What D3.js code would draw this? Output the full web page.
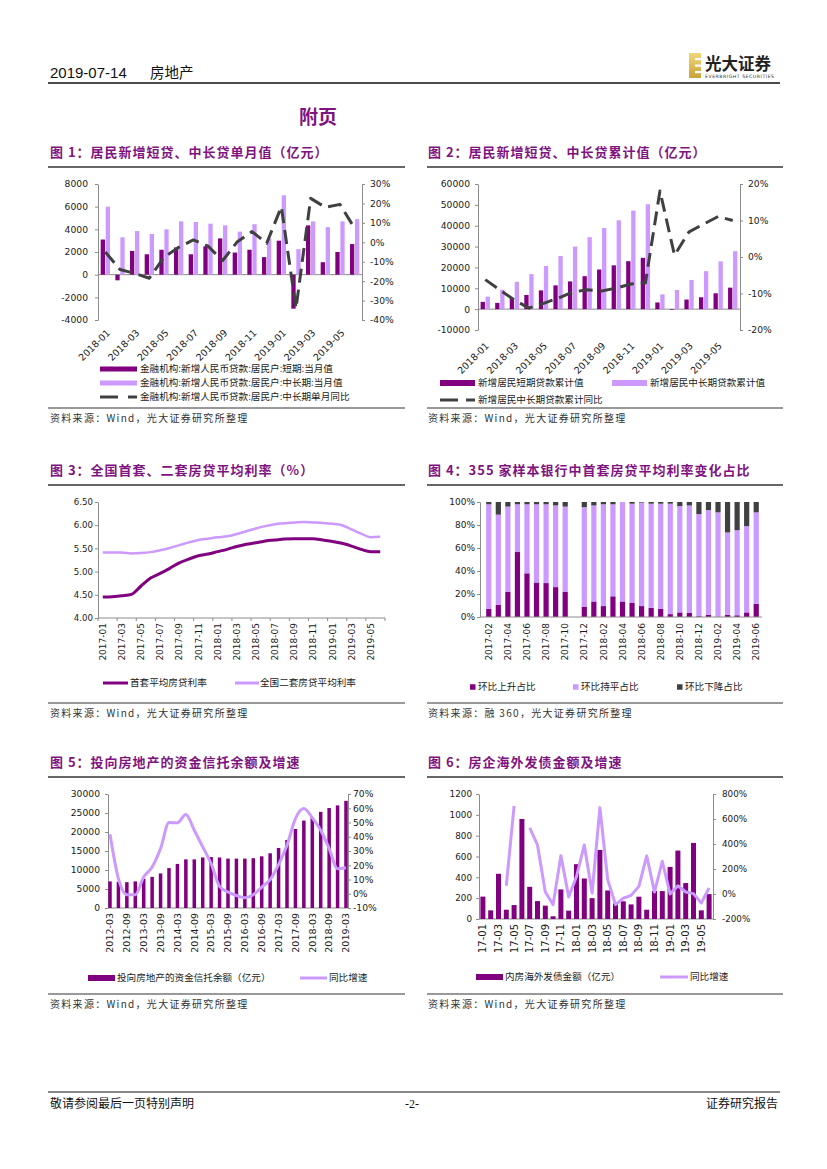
<!DOCTYPE html>
<html>
<head>
<meta charset="utf-8">
<script src="https://cdn.jsdelivr.net/npm/d3@7/dist/d3.min.js"></script>
<style>
  body { margin: 0; background: #fff; }
  svg text { font-family: "DejaVu Sans", sans-serif; }
  .cn { font-family: "Noto Sans CJK SC", sans-serif; }
  .title { font-family: "Noto Sans CJK SC", sans-serif; font-weight: 700; font-size: 13px; fill: #7f1380; letter-spacing: 1px; }
  .source { font-family: "Noto Sans CJK SC", sans-serif; font-size: 10px; fill: #333; letter-spacing: 1.3px; }
  .legend { font-family: "Noto Sans CJK SC", sans-serif; font-size: 9.6px; fill: #1a1a1a; }
  .tick text { font-family: "DejaVu Sans", sans-serif; fill: #1a1a1a; }
  .xlab { font-family: "DejaVu Sans", sans-serif; fill: #1a1a1a; }
</style>
</head>
<body>
<div id="wrapper"></div>
<script>
// 1. Data
const months18 = ["2018-01","2018-02","2018-03","2018-04","2018-05","2018-06","2018-07","2018-08","2018-09",
  "2018-10","2018-11","2018-12","2019-01","2019-02","2019-03","2019-04","2019-05","2019-06"];
const monthTicks18 = ["2018-01","2018-03","2018-05","2018-07","2018-09","2018-11","2019-01","2019-03","2019-05"];

// fig 1: monthly
const shortMonthly = [3100, -500, 2100, 1800, 2200, 2400, 1800, 2500, 3200, 1950, 2200, 1550, 3000, -3000, 4350, 1100, 2000, 2700];
const longMonthly = [6000, 3300, 3850, 3600, 4000, 4700, 4650, 4500, 4350, 3800, 4450, 3200, 7000, 2250, 4700, 4200, 4700, 4900];
const longMonthlyYoy = [-0.05, -0.14, -0.16, -0.185, -0.077, -0.026, 0.012, -0.02, -0.094, 0.003, 0.055, -0.005, 0.183, -0.34, 0.226, 0.18, 0.195, 0.072];

// fig 2: cumulative
const shortCumulative = [3500, 3000, 5200, 6800, 9000, 11400, 13300, 15800, 19000, 21000, 23000, 24600, 3200, -300, 4600, 5700, 7600, 10300];
const longCumulative = [6000, 9300, 13100, 16800, 20700, 25500, 30000, 34500, 38900, 42600, 47200, 50300, 7100, 9200, 14000, 18200, 22900, 27800];
const longCumulativeYoy = [-0.062, -0.09, -0.118, -0.14, -0.127, -0.113, -0.096, -0.09, -0.093, -0.085, -0.074, -0.071, 0.181, 0.005, 0.069, 0.09, 0.111, 0.10];

// fig 3: mortgage rates
const months30 = ["2017-01","2017-02","2017-03","2017-04","2017-05","2017-06","2017-07","2017-08","2017-09","2017-10","2017-11","2017-12",
  "2018-01","2018-02","2018-03","2018-04","2018-05","2018-06","2018-07","2018-08","2018-09","2018-10","2018-11","2018-12",
  "2019-01","2019-02","2019-03","2019-04","2019-05","2019-06"];
const monthTicks30 = ["2017-01","2017-03","2017-05","2017-07","2017-09","2017-11","2018-01","2018-03","2018-05","2018-07",
  "2018-09","2018-11","2019-01","2019-03","2019-05"];
const firstHomeRate = [4.45, 4.46, 4.48, 4.51, 4.69, 4.86, 4.96, 5.07, 5.19, 5.27, 5.34, 5.38, 5.43, 5.48, 5.54, 5.59, 5.62, 5.66,
  5.68, 5.70, 5.71, 5.71, 5.71, 5.68, 5.65, 5.61, 5.55, 5.48, 5.43, 5.43];
const secondHomeRate = [5.41, 5.41, 5.41, 5.39, 5.40, 5.42, 5.46, 5.51, 5.57, 5.63, 5.68, 5.71, 5.74, 5.76, 5.81, 5.87, 5.93, 5.98,
  6.02, 6.04, 6.06, 6.07, 6.06, 6.05, 6.03, 6.00, 5.91, 5.82, 5.74, 5.75];

// fig 4: share of banks (%), 2017-11 missing
const months29 = ["2017-02","2017-03","2017-04","2017-05","2017-06","2017-07","2017-08","2017-09","2017-10","2017-11","2017-12",
  "2018-01","2018-02","2018-03","2018-04","2018-05","2018-06","2018-07","2018-08","2018-09","2018-10","2018-11","2018-12",
  "2019-01","2019-02","2019-03","2019-04","2019-05","2019-06"];
const monthTicks29 = ["2017-02","2017-04","2017-06","2017-08","2017-10","2017-12","2018-02","2018-04","2018-06","2018-08",
  "2018-10","2018-12","2019-02","2019-04","2019-06"];
const upShare = [7, 10.5, 22, 56.5, 38, 30, 29.5, 26, 22, null, 9, 13.5, 9.5, 18, 13.5, 12.5, 9.5, 8, 7, 2.5, 4, 3.5, 0.7, 2, 0, 2, 1.5, 4, 11.5];
const flatShare = [91, 78.5, 74, 41.5, 60, 68, 68.5, 71, 74, null, 86.5, 83.5, 88.5, 80, 86.5, 86, 90, 90.5, 91.5, 96, 92.5, 93.5, 88.8, 91, 91, 71.5, 74, 75, 79.5];
const downShare = [2, 11, 4, 2, 2, 2, 2, 3, 4, null, 4.5, 3, 2, 2, 0, 1.5, 0.5, 1.5, 1.5, 1.5, 3.5, 3, 10.5, 7, 9, 26.5, 24.5, 21, 9];

// fig 5: trust funds to real estate
const quarters = ["2012-03","2012-06","2012-09","2012-12","2013-03","2013-06","2013-09","2013-12","2014-03","2014-06","2014-09","2014-12",
  "2015-03","2015-06","2015-09","2015-12","2016-03","2016-06","2016-09","2016-12","2017-03","2017-06","2017-09","2017-12",
  "2018-03","2018-06","2018-09","2018-12","2019-03"];
const quarterTicks = ["2012-03","2012-09","2013-03","2013-09","2014-03","2014-09","2015-03","2015-09","2016-03","2016-09",
  "2017-03","2017-09","2018-03","2018-09","2019-03"];
const trustBalance = [7000, 6900, 6800, 7000, 7700, 8200, 9100, 10500, 11600, 12800, 12800, 13300, 13400, 13300, 13000, 13000,
  13000, 13100, 13600, 14400, 15800, 17900, 20800, 23000, 23900, 25300, 26300, 27000, 28200];
const trustYoy = [0.418, 0.106, -0.007, -0.007, 0.117, 0.188, 0.317, 0.50, 0.498, 0.556, 0.446, 0.329, 0.211, 0.052, 0.012, -0.012,
  -0.028, -0.007, 0.047, 0.099, 0.204, 0.34, 0.528, 0.599, 0.533, 0.446, 0.317, 0.176, 0.183];

// fig 6: overseas bonds
const bondMonths = ["17-01","17-02","17-03","17-04","17-05","17-06","17-07","17-08","17-09","17-10","17-11","17-12",
  "18-01","18-02","18-03","18-04","18-05","18-06","18-07","18-08","18-09","18-10","18-11","18-12",
  "19-01","19-02","19-03","19-04","19-05","19-06"];
const bondTicks = ["17-01","17-03","17-05","17-07","17-09","17-11","18-01","18-03","18-05","18-07","18-09","18-11","19-01","19-03","19-05"];
const bondAmount = [215, 83, 434, 89, 134, 960, 309, 172, 128, 26, 284, 80, 526, 389, 200, 663, 274, 150, 170, 140, 214, 89,
  270, 268, 500, 657, 345, 730, 83, 239];
const bondYoy = [null, null, null, 0.66, 7.05, null, 5.30, 3.92, 0.16, -0.85, 3.07, -0.24, 1.40, 3.92, 0.08, 6.91, 1.14, -0.85,
  -0.34, -0.11, 0.61, 3.05, 0.16, 2.62, 0.0, 0.66, 0.16, 0.03, -0.72, 0.48];

// 2. Page
const colors = { dark: "#800080", light: "#cc99ff", gray: "#404040", axis: "#8c8c8c", title: "#7f1380" };
const pct = (d) => Math.round(d * 100) + "%";

const svg = d3.select("#wrapper").append("svg").attr("width", 827).attr("height", 1169);

// header
svg.append("text").attr("x", 50).attr("y", 78).style("font-family", "Liberation Sans").style("font-size", "15px")
  .attr("fill", "#111").text("2019-07-14");
svg.append("text").attr("x", 150).attr("y", 78).attr("class", "cn").style("font-size", "14.5px").attr("fill", "#111").text("房地产");
svg.append("line").attr("x1", 48).attr("x2", 780).attr("y1", 83).attr("y2", 83).attr("stroke", "#111").attr("stroke-width", 1.5);

// logo
const grad = svg.append("defs").append("linearGradient").attr("id", "gold").attr("x1", 0).attr("x2", 0).attr("y1", 0).attr("y2", 1);
grad.append("stop").attr("offset", "0%").attr("stop-color", "#f1d77a");
grad.append("stop").attr("offset", "100%").attr("stop-color", "#c9a23a");
svg.append("rect").attr("x", 689).attr("y", 53).attr("width", 12).attr("height", 25).attr("fill", "url(#gold)");
[58, 64.5, 71].forEach((y) =>
  svg.append("rect").attr("x", 695).attr("y", y).attr("width", 6).attr("height", 2.2).attr("fill", "#fff"));
svg.append("text").attr("x", 705).attr("y", 70).attr("class", "cn").style("font-size", "16.5px").style("font-weight", 700)
  .attr("fill", "#222").text("光大证券");
svg.append("text").attr("x", 705).attr("y", 77.5).style("font-size", "4.6px").attr("fill", "#333")
  .attr("textLength", 69).text("EVERBRIGHT SECURITIES");

svg.append("text").attr("x", 318).attr("y", 124).attr("text-anchor", "middle").attr("class", "cn")
  .style("font-size", "19px").style("font-weight", 700).attr("fill", colors.title).text("附页");

// footer
svg.append("line").attr("x1", 48).attr("x2", 780).attr("y1", 1092).attr("y2", 1092).attr("stroke", "#111").attr("stroke-width", 1);
svg.append("text").attr("x", 50).attr("y", 1108).attr("class", "cn").style("font-size", "12px").attr("fill", "#111").text("敬请参阅最后一页特别声明");
svg.append("text").attr("x", 412).attr("y", 1108).attr("text-anchor", "middle").style("font-family", "Liberation Serif")
  .style("font-size", "12px").attr("fill", "#111").text("-2-");
svg.append("text").attr("x", 778).attr("y", 1108).attr("text-anchor", "end").attr("class", "cn").style("font-size", "12px")
  .attr("fill", "#111").text("证券研究报告");

// panel frames
const panels = { left: [48, 405, 50], right: [427, 783, 428] };
function panelTitle(side, y, text) {
  const [x0, x1, tx] = panels[side];
  svg.append("text").attr("class", "title").attr("x", tx).attr("y", y).text(text);
  svg.append("line").attr("x1", x0).attr("x2", x1).attr("y1", y + 10).attr("y2", y + 10)
    .attr("stroke", "#333").attr("stroke-width", 1.5);
}
function panelSource(side, y, text) {
  const [x0, x1, tx] = panels[side];
  svg.append("line").attr("x1", x0).attr("x2", x1).attr("y1", y).attr("y2", y).attr("stroke", "#333").attr("stroke-width", 1);
  svg.append("text").attr("class", "source").attr("x", tx).attr("y", y + 14).text(text);
}

panelTitle("left", 157, "图 1：居民新增短贷、中长贷单月值（亿元）");
panelTitle("right", 157, "图 2：居民新增短贷、中长贷累计值（亿元）");
panelTitle("left", 475, "图 3：全国首套、二套房贷平均利率（%）");
panelTitle("right", 475, "图 4：355 家样本银行中首套房贷平均利率变化占比");
panelTitle("left", 767, "图 5：投向房地产的资金信托余额及增速");
panelTitle("right", 767, "图 6：房企海外发债金额及增速");
panelSource("left", 408, "资料来源：Wind，光大证券研究所整理");
panelSource("right", 408, "资料来源：Wind，光大证券研究所整理");
panelSource("left", 703, "资料来源：Wind，光大证券研究所整理");
panelSource("right", 703, "资料来源：融 360，光大证券研究所整理");
panelSource("left", 994, "资料来源：Wind，光大证券研究所整理");
panelSource("right", 994, "资料来源：Wind，光大证券研究所整理");

// 3. Helpers
function yAxis(g, scale, x, side, ticks, fmt, pad, size) {
  const axis = (side === "left" ? d3.axisLeft(scale) : d3.axisRight(scale))
    .tickValues(ticks).tickFormat(fmt).tickSize(3).tickPadding(pad).tickSizeOuter(0);
  const a = g.append("g").attr("transform", `translate(${x},0)`).call(axis);
  a.select(".domain").attr("stroke", colors.axis);
  a.selectAll(".tick line").attr("stroke", colors.axis);
  a.selectAll(".tick text").style("font-size", (size || 9) + "px");
  return a;
}
function hLine(g, x0, x1, y) {
  g.append("line").attr("x1", x0).attr("x2", x1).attr("y1", y).attr("y2", y).attr("stroke", colors.axis);
}
function xTicks(g, xs, y) {
  g.append("g").selectAll("line").data(xs).join("line")
    .attr("x1", (d) => d).attr("x2", (d) => d).attr("y1", y).attr("y2", y + 3).attr("stroke", colors.axis);
}
function rotLabels(g, labels, pos, y, angle, size) {
  g.append("g").selectAll("text").data(labels).join("text")
    .attr("class", "xlab")
    .style("font-size", size + "px")
    .attr("transform", (d) => `translate(${pos(d)},${y}) rotate(${angle})`)
    .attr("text-anchor", "end")
    .attr("dy", "0.35em")
    .text((d) => d);
}
function bars(g, cats, values, xPos, y, width, color) {
  g.append("g").selectAll("rect")
    .data(cats.map((c, i) => ({ c, v: values[i] })).filter((d) => d.v != null))
    .join("rect")
    .attr("x", (d) => xPos(d.c) - width / 2)
    .attr("width", width)
    .attr("y", (d) => Math.min(y(d.v), y(0)))
    .attr("height", (d) => Math.abs(y(d.v) - y(0)))
    .attr("fill", color);
}
function series(g, cats, values, xPos, y, color, width, dash, curve) {
  const line = d3.line().defined((d) => d.v != null).x((d) => xPos(d.c)).y((d) => y(d.v)).curve(curve || d3.curveLinear);
  g.append("path").datum(cats.map((c, i) => ({ c, v: values[i] })))
    .attr("d", line).attr("fill", "none").attr("stroke", color).attr("stroke-width", width)
    .attr("stroke-linejoin", "round").attr("stroke-dasharray", dash || null);
}
function legendRect(x, y, w, h, color, label, tx) {
  svg.append("rect").attr("x", x).attr("y", y - h / 2).attr("width", w).attr("height", h).attr("fill", color);
  svg.append("text").attr("class", "legend").attr("x", tx).attr("y", y).attr("dy", "0.35em").text(label);
}
function legendLine(x, y, w, color, width, dash, label, tx) {
  svg.append("line").attr("x1", x).attr("x2", x + w).attr("y1", y).attr("y2", y)
    .attr("stroke", color).attr("stroke-width", width).attr("stroke-dasharray", dash || null);
  svg.append("text").attr("class", "legend").attr("x", tx).attr("y", y).attr("dy", "0.35em").text(label);
}

// 4. Chart 1
{
  const g = svg.append("g");
  const x = d3.scaleBand().domain(months18).range([98, 362]);
  const yL = d3.scaleLinear().domain([-4000, 8000]).range([320, 184]);
  const yR = d3.scaleLinear().domain([-0.4, 0.3]).range([320, 184]);
  const c = (d) => x(d) + x.bandwidth() / 2;
  yAxis(g, yL, 98, "left", [-4000, -2000, 0, 2000, 4000, 6000, 8000], (d) => d, 7, 9.2);
  yAxis(g, yR, 362, "right", [-0.4, -0.3, -0.2, -0.1, 0, 0.1, 0.2, 0.3], pct, 5, 9.2);
  hLine(g, 98, 362, yL(0));
  bars(g, months18, shortMonthly, (d) => c(d) - 2.5, yL, 4.3, colors.dark);
  bars(g, months18, longMonthly, (d) => c(d) + 2.5, yL, 4.3, colors.light);
  series(g, months18, longMonthlyYoy, c, yR, colors.gray, 3, "14,7");
  rotLabels(g, monthTicks18, (d) => c(d) + 3, 331, -45, 9.5);
  legendRect(100, 369, 37, 5, colors.dark, "金融机构:新增人民币贷款:居民户:短期:当月值", 140);
  legendRect(100, 383, 37, 5, colors.light, "金融机构:新增人民币贷款:居民户:中长期:当月值", 140);
  legendLine(100, 397, 37, colors.gray, 3, "18,10", "金融机构:新增人民币贷款:居民户:中长期单月同比", 140);
}

// 5. Chart 2
{
  const g = svg.append("g");
  const x = d3.scaleBand().domain(months18).range([478, 740]);
  const yL = d3.scaleLinear().domain([-10000, 60000]).range([330, 184]);
  const yR = d3.scaleLinear().domain([-0.2, 0.2]).range([330, 184]);
  const c = (d) => x(d) + x.bandwidth() / 2;
  yAxis(g, yL, 478, "left", [-10000, 0, 10000, 20000, 30000, 40000, 50000, 60000], (d) => d, 5, 9.2);
  yAxis(g, yR, 740, "right", [-0.2, -0.1, 0, 0.1, 0.2], pct, 5, 9.2);
  hLine(g, 478, 740, yL(0));
  bars(g, months18, shortCumulative, (d) => c(d) - 2.5, yL, 4.3, colors.dark);
  bars(g, months18, longCumulative, (d) => c(d) + 2.5, yL, 4.3, colors.light);
  series(g, months18, longCumulativeYoy, c, yR, colors.gray, 3, "14,7");
  rotLabels(g, monthTicks18, (d) => c(d) + 2, 344, -45, 9.5);
  legendRect(440, 383, 35, 6, colors.dark, "新增居民短期贷款累计值", 478);
  legendRect(612, 383, 35, 6, colors.light, "新增居民中长期贷款累计值", 650);
  legendLine(440, 400, 35, colors.gray, 3, "18,8", "新增居民中长期贷款累计同比", 478);
}

// 6. Chart 3
{
  const g = svg.append("g");
  const x = d3.scaleBand().domain(months30).range([98, 385]);
  const y = d3.scaleLinear().domain([4, 6.5]).range([618, 502]);
  const c = (d) => x(d) + x.bandwidth() / 2;
  yAxis(g, y, 98, "left", [4, 4.5, 5, 5.5, 6, 6.5], d3.format(".2f"), 2, 8.6);
  hLine(g, 98, 385, 618);
  xTicks(g, months30.filter((d, i) => i % 2 === 0).map((d) => x(d)).concat([385]), 618);
  series(g, months30, secondHomeRate, c, y, colors.light, 2.5, null, d3.curveMonotoneX);
  series(g, months30, firstHomeRate, c, y, colors.dark, 3, null, d3.curveMonotoneX);
  rotLabels(g, monthTicks30, c, 623, -90, 9);
  legendLine(103, 683, 25, colors.dark, 3, null, "首套平均房贷利率", 130);
  legendLine(235, 683, 24, colors.light, 3, null, "全国二套房贷平均利率", 260);
}

// 7. Chart 4
{
  const g = svg.append("g");
  const x = d3.scaleBand().domain(months29).range([484, 761]);
  const y = d3.scaleLinear().domain([0, 100]).range([617, 502]);
  const c = (d) => x(d) + x.bandwidth() / 2;
  yAxis(g, y, 480, "left", [0, 20, 40, 60, 80, 100], (d) => d + "%", 2, 9);
  const table = months29.map((m, i) => ({ month: m, up: upShare[i], flat: flatShare[i], down: downShare[i] }))
    .filter((d) => d.up != null);
  const stack = d3.stack().keys(["up", "flat", "down"])(table);
  const fills = { up: colors.dark, flat: colors.light, down: colors.gray };
  g.append("g").selectAll("g").data(stack).join("g").attr("fill", (s) => fills[s.key])
    .selectAll("rect").data((s) => s).join("rect")
    .attr("x", (d) => c(d.data.month) - 2.6)
    .attr("width", 5.2)
    .attr("y", (d) => y(d[1]))
    .attr("height", (d) => y(d[0]) - y(d[1]));
  hLine(g, 480, 762, 617);
  rotLabels(g, monthTicks29, c, 623, -90, 9);
  legendRect(470, 687, 5.5, 5.5, colors.dark, "环比上升占比", 478);
  legendRect(573, 687, 5.5, 5.5, colors.light, "环比持平占比", 581);
  legendRect(677, 687, 5.5, 5.5, colors.gray, "环比下降占比", 685);
}

// 8. Chart 5
{
  const g = svg.append("g");
  const x = d3.scalePoint().domain(quarters).range([110, 346]);
  const yL = d3.scaleLinear().domain([0, 30000]).range([908, 794]);
  const yR = d3.scaleLinear().domain([-0.1, 0.7]).range([908, 794]);
  yAxis(g, yL, 108, "left", [0, 5000, 10000, 15000, 20000, 25000, 30000], (d) => d, 5, 9.2);
  yAxis(g, yR, 348, "right", [-0.1, 0, 0.1, 0.2, 0.3, 0.4, 0.5, 0.6, 0.7], pct, 2, 9.2);
  hLine(g, 108, 348, 908);
  bars(g, quarters, trustBalance, x, yL, 3.5, colors.dark);
  series(g, quarters, trustYoy, x, yR, colors.light, 3, null, d3.curveMonotoneX);
  rotLabels(g, quarterTicks, x, 913, -90, 9.5);
  legendRect(88, 978, 27, 6, colors.dark, "投向房地产的资金信托余额（亿元）", 117);
  legendLine(300, 978, 27, colors.light, 3, null, "同比增速", 329);
}

// 9. Chart 6
{
  const g = svg.append("g");
  const x = d3.scaleBand().domain(bondMonths).range([479, 713]);
  const yL = d3.scaleLinear().domain([0, 1200]).range([919, 794]);
  const yR = d3.scaleLinear().domain([-2, 8]).range([919, 794]);
  const c = (d) => x(d) + x.bandwidth() / 2;
  yAxis(g, yL, 479, "left", [0, 200, 400, 600, 800, 1000, 1200], (d) => d, 4, 8.8);
  yAxis(g, yR, 713, "right", [-2, 0, 2, 4, 6, 8], pct, 6, 8.8);
  hLine(g, 479, 713, 919);
  bars(g, bondMonths, bondAmount, c, yL, 5, colors.dark);
  series(g, bondMonths, bondYoy, c, yR, colors.light, 3);
  rotLabels(g, bondTicks, c, 924, -90, 10);
  legendRect(476, 977, 27, 6, colors.dark, "内房海外发债金额（亿元）", 505);
  legendLine(660, 977, 28, colors.light, 3, null, "同比增速", 690);
}
</script>
</body>
</html>
